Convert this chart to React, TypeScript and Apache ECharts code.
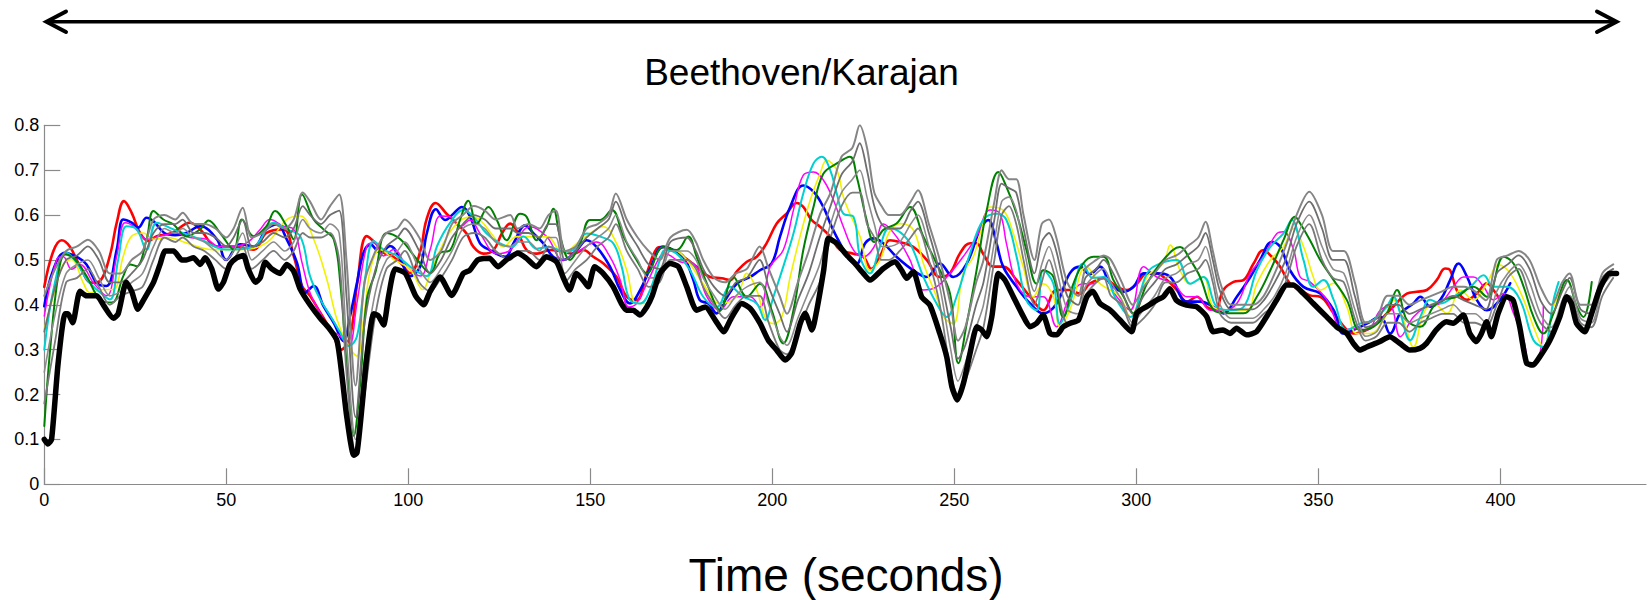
import React, { useEffect, useRef } from "react";
import * as echarts from "echarts";

const titleText = "Beethoven/Karajan";
const xAxisTitle = "Time (seconds)";
const xTicks = [0, 50, 100, 150, 200, 250, 300, 350, 400];

const blackLine: [number, number][] = [
  [0,0.10],[1,0.09],[2,0.10],[3.8,0.27],[5.7,0.38],[6.5,0.38],[7.8,0.36],[9.8,0.43],[11.6,0.42],[14.4,0.42],
  [16.2,0.40],[19,0.37],[20.3,0.38],[22.5,0.45],[24,0.43],[25.7,0.39],[27.2,0.41],[30,0.45],[31.8,0.49],[33.2,0.52],
  [35.5,0.52],[37.8,0.50],[39,0.50],[41,0.505],[42.8,0.49],[44.2,0.505],[46,0.48],[47.8,0.435],[49.2,0.45],[51,0.49],
  [52.9,0.505],[54.7,0.51],[56,0.48],[58,0.45],[59.3,0.46],[60.7,0.495],[62.5,0.48],[64.8,0.47],[66.6,0.49],[68.5,0.475],
  [70.3,0.435],[73,0.40],[75.8,0.37],[78,0.35],[80.4,0.32],[81.8,0.24],[83.1,0.15],[85,0.065],[85.9,0.07],[87.3,0.175],
  [88.6,0.285],[90.5,0.38],[91.8,0.375],[93.2,0.355],[94.6,0.42],[96.4,0.48],[99.2,0.47],[102,0.42],[104.2,0.40],[106,0.43],
  [108.7,0.462],[111.9,0.421],[115.1,0.47],[116.9,0.477],[119.1,0.50],[122.3,0.504],[124.6,0.485],[126.9,0.50],[130.1,0.515],[132.4,0.504],
  [135.2,0.485],[137.9,0.507],[140.7,0.496],[142.5,0.462],[144.3,0.433],[146.2,0.47],[148,0.455],[149.4,0.44],[151.2,0.485],[153.5,0.47],
  [156.3,0.44],[158.5,0.403],[159.9,0.388],[161.8,0.388],[163.6,0.377],[165.5,0.395],[167,0.42],[169.1,0.47],[171.9,0.492],[174.2,0.485],
  [176.5,0.44],[179.2,0.388],[181.6,0.395],[184.3,0.366],[186.6,0.34],[188.9,0.373],[191.6,0.403],[193.9,0.392],[196.6,0.359],[198.9,0.321],
  [201.2,0.299],[203.5,0.277],[205.3,0.292],[207.7,0.359],[209,0.381],[210.9,0.344],[212.2,0.388],[214.1,0.477],[215.4,0.548],[217.7,0.537],
  [220.4,0.511],[222.7,0.492],[225,0.47],[226.8,0.455],[230.5,0.481],[233.7,0.496],[235.5,0.477],[236.9,0.459],[238.7,0.474],[241,0.418],
  [243.3,0.399],[246,0.336],[247.9,0.284],[249.3,0.218],[250.8,0.188],[252.5,0.225],[254.3,0.292],[256.2,0.351],[257.5,0.344],[258.9,0.329],
  [260.3,0.374],[262.1,0.47],[263.9,0.455],[266.2,0.418],[268.5,0.381],[270.8,0.351],[272.6,0.359],[274.4,0.377],[276.3,0.336],[278.1,0.333],
  [279.9,0.351],[281.8,0.359],[284.1,0.366],[286.4,0.418],[288,0.43],[290,0.403],[292.8,0.388],[295.5,0.366],[298.7,0.34],[300.1,0.381],
  [302.8,0.396],[305.5,0.41],[307.4,0.418],[309.2,0.436],[311,0.41],[313.8,0.399],[316.5,0.396],[319.3,0.374],[321.1,0.34],[323.8,0.344],
  [325.7,0.336],[327.5,0.348],[330.3,0.333],[333,0.34],[335.8,0.374],[338.5,0.41],[341.3,0.444],[343.1,0.444],[345.9,0.425],[348.6,0.403],
  [352.3,0.373],[355,0.351],[357.8,0.336],[359.6,0.314],[361.4,0.299],[363.3,0.306],[366.9,0.318],[369.6,0.329],[372.4,0.314],[375.1,0.299],
  [377.9,0.303],[379.7,0.314],[382.4,0.344],[385.2,0.362],[387,0.359],[389.8,0.377],[391.6,0.336],[393.4,0.318],[394.8,0.336],[396.2,0.362],
  [397.5,0.329],[399.4,0.381],[401.7,0.418],[403.5,0.41],[405.3,0.351],[407.2,0.27],[409,0.266],[410.8,0.284],[413.6,0.321],[416.3,0.373],
  [418.2,0.418],[419.5,0.403],[420.9,0.359],[423.2,0.34],[424.5,0.366],[426.8,0.425],[428.2,0.451],[430,0.47],[431.9,0.47]
];

const redLine: [number, number][] = [
  [0,0.44],[2.5,0.52],[4.8,0.544],[7,0.53],[9.8,0.486],[13,0.449],[15.3,0.453],[18,0.509],[19.9,0.583],[21.9,0.631],
  [24,0.605],[26.3,0.56],[28.6,0.542],[30.9,0.553],[35,0.56],[40,0.583],[42.8,0.568],[47.4,0.53],[52,0.53],[57.5,0.523],
  [61,0.56],[65.7,0.568],[68.5,0.509],[70.8,0.442],[73,0.42],[76,0.38],[79,0.34],[81.5,0.30],[84,0.33],[86,0.45],
  [88.6,0.553],[91.4,0.534],[93.2,0.516],[95.5,0.509],[97.8,0.494],[100.5,0.471],[103.3,0.52],[105,0.59],[107.5,0.627],[110.5,0.603],
  [113.3,0.581],[116,0.559],[117.9,0.529],[120.6,0.514],[123.4,0.522],[125.7,0.559],[128,0.581],[130.2,0.559],[132.5,0.522],[135.3,0.514],
  [139,0.522],[142.6,0.518],[145.3,0.514],[148.1,0.522],[150.8,0.507],[153.6,0.492],[157.2,0.462],[160,0.418],[162.7,0.41],[165.5,0.47],
  [168.2,0.525],[170,0.529],[171.9,0.525],[175.6,0.507],[179.2,0.485],[182.9,0.462],[186.1,0.459],[188.4,0.455],[190.2,0.474],[193,0.496],
  [195.7,0.507],[198.4,0.537],[201.2,0.581],[203.9,0.603],[206.7,0.627],[208.5,0.618],[210.8,0.589],[213.1,0.574],[215.9,0.552],[218.6,0.522],
  [222.3,0.514],[225,0.507],[227.2,0.48],[229.5,0.507],[232.3,0.544],[235,0.54],[238.7,0.529],[242.4,0.50],[246,0.462],[248.8,0.47],
  [251.5,0.514],[254.3,0.537],[256.1,0.537],[257.9,0.514],[260.7,0.485],[263.4,0.485],[267.1,0.455],[270.8,0.418],[274.4,0.388],[278.1,0.433],
  [281.7,0.433],[284.5,0.425],[287.2,0.447],[291,0.459],[294.6,0.44],[297.4,0.433],[300.1,0.447],[302.9,0.47],[305.6,0.47],[308.4,0.455],
  [311.1,0.433],[313.9,0.407],[316.6,0.418],[319.4,0.395],[321.6,0.388],[323.9,0.433],[326.7,0.451],[329.4,0.455],[332.2,0.492],[334.9,0.522],
  [337.2,0.507],[339.5,0.485],[342.2,0.447],[345,0.433],[347.7,0.421],[350.5,0.418],[354.2,0.381],[357.8,0.344],[359.6,0.336],[363.3,0.344],
  [367,0.366],[370.6,0.396],[374.3,0.425],[377,0.429],[379.8,0.433],[382.5,0.455],[384.8,0.481],[386.2,0.477],[388,0.433],[390.8,0.411],
  [393.5,0.425],[396.3,0.448],[398.1,0.433],[399.9,0.411]
];

const blueLine: [number, number][] = [
  [0,0.397],[2.5,0.479],[5.7,0.516],[9.3,0.505],[11.6,0.49],[14.4,0.449],[17.1,0.442],[19.9,0.523],[21.7,0.59],[24,0.583],
  [25.8,0.572],[28.1,0.594],[30,0.586],[33,0.56],[36,0.555],[39,0.56],[42.8,0.575],[47.4,0.546],[50,0.50],[53.8,0.535],
  [57.5,0.53],[61,0.568],[63.9,0.579],[66.6,0.546],[69.4,0.494],[71.7,0.427],[74,0.442],[76.7,0.397],[79.5,0.36],[82.2,0.319],
  [84,0.375],[85.9,0.449],[87.7,0.516],[89.6,0.534],[92.3,0.516],[95,0.531],[97.8,0.501],[100.5,0.464],[103.3,0.486],[105.1,0.56],
  [107.6,0.613],[110.1,0.589],[112.4,0.603],[114.7,0.618],[117,0.596],[119.7,0.537],[122.4,0.522],[126.6,0.507],[128.9,0.537],[132.1,0.577],
  [134.4,0.559],[137.1,0.537],[139.8,0.507],[142.6,0.50],[146.3,0.522],[149,0.544],[151.7,0.529],[155.4,0.485],[158.2,0.433],[160.9,0.403],
  [163.7,0.433],[166.4,0.48],[170,0.529],[172.8,0.522],[175.6,0.507],[178.3,0.455],[180.1,0.41],[182.4,0.403],[184.7,0.381],[187,0.41],
  [190.2,0.447],[193.9,0.462],[196.6,0.477],[199.8,0.492],[202.1,0.552],[204.9,0.618],[208.5,0.666],[211.3,0.652],[214,0.618],[216.3,0.574],
  [218.6,0.537],[221.3,0.50],[223.2,0.492],[225.5,0.537],[227.8,0.548],[230.5,0.537],[234.1,0.507],[238.7,0.477],[242.4,0.462],[246,0.492],
  [249.7,0.462],[253.4,0.492],[257,0.567],[259.3,0.589],[261.6,0.537],[263.4,0.485],[267.1,0.44],[270.8,0.403],[274.4,0.381],[278.1,0.403],
  [281.7,0.47],[284.5,0.485],[287.2,0.468],[290,0.485],[292.8,0.447],[296.5,0.429],[299.2,0.44],[302,0.47],[305.6,0.47],[309.3,0.462],
  [313.9,0.407],[317.5,0.407],[321.2,0.395],[323.9,0.381],[327.6,0.418],[331.3,0.462],[334,0.50],[337.2,0.54],[339.5,0.529],[342.2,0.477],
  [345.9,0.44],[350.5,0.425],[354.2,0.388],[356.9,0.336],[359.6,0.344],[363.3,0.358],[367,0.373],[369.7,0.336],[372.5,0.381],[376.1,0.403],
  [378,0.418],[380.7,0.396],[383.5,0.411],[386.2,0.455],[388.5,0.492],[390.8,0.463],[393.5,0.411],[396.3,0.388],[399.9,0.411],[402.7,0.448]
];

const magentaLine: [number, number][] = [
  [0,0.375],[3.4,0.501],[5.2,0.507],[7.5,0.479],[9.8,0.49],[13.5,0.449],[17.1,0.42],[19.9,0.509],[22.2,0.583],[24.5,0.575],
  [28.1,0.546],[31.8,0.553],[36,0.56],[40,0.55],[44.6,0.546],[48,0.53],[52,0.53],[56,0.54],[59.3,0.568],[62,0.59],
  [65.7,0.575],[68.5,0.568],[70.8,0.494],[73,0.427],[75.8,0.382],[78.6,0.345],[81.3,0.33],[83.6,0.308],[85.9,0.405],[88.6,0.531],
  [90.5,0.538],[93.2,0.509],[96,0.523],[99.6,0.486],[103.3,0.464],[106,0.523],[108.8,0.598],[111.5,0.596],[114.2,0.574],[117,0.589],
  [119.7,0.559],[124.3,0.514],[128,0.522],[133.4,0.574],[138,0.552],[142.6,0.50],[147.2,0.522],[151.7,0.54],[155.4,0.507],[158.2,0.455],
  [160.5,0.395],[162.7,0.403],[165.5,0.447],[169.1,0.507],[170.5,0.514],[174.6,0.496],[178.3,0.492],[182,0.418],[185.6,0.388],[189.3,0.418],
  [193.9,0.418],[196.6,0.395],[199.4,0.485],[203,0.522],[205.8,0.611],[208.5,0.689],[211.3,0.696],[214,0.678],[216.8,0.633],[219.5,0.574],
  [222.3,0.522],[225,0.507],[228,0.53],[230.5,0.58],[234.1,0.552],[237.8,0.50],[241.5,0.433],[245.1,0.44],[248.8,0.47],[252.4,0.507],
  [256.1,0.552],[259.8,0.611],[262.5,0.603],[264.3,0.537],[267.1,0.447],[270.8,0.418],[274.4,0.418],[278.1,0.351],[281.7,0.418],[285.4,0.447],
  [288,0.447],[291,0.462],[294.6,0.418],[298.3,0.388],[302,0.485],[305.6,0.462],[310.2,0.447],[313.9,0.418],[316.6,0.418],[320.3,0.388],
  [323.9,0.388],[327.6,0.403],[331.3,0.47],[334.9,0.507],[338.6,0.559],[340.4,0.563],[343.2,0.522],[345,0.462],[347.7,0.451],[352.3,0.411],
  [356.9,0.344],[359.6,0.347],[363.3,0.344],[367,0.388],[369.7,0.396],[372.5,0.329],[376.1,0.373],[379.8,0.396],[383.5,0.403],[387.1,0.44],
  [389.9,0.462],[392.6,0.462],[395.4,0.44],[398.1,0.411],[400.9,0.425],[403.6,0.381],[406.4,0.321],[408.2,0.262],[410.9,0.291],[411.8,0.396]
];

const yellowLine: [number, number][] = [
  [0,0.345],[2.5,0.42],[5.2,0.49],[7.5,0.501],[10.7,0.449],[12.6,0.427],[16.2,0.434],[19,0.434],[21.7,0.509],[24,0.553],
  [27.2,0.56],[30,0.546],[34,0.55],[39,0.538],[46.5,0.523],[53.8,0.523],[61,0.538],[66.6,0.59],[70.3,0.598],[74,0.546],
  [77.6,0.457],[80.4,0.367],[83.1,0.316],[85.9,0.286],[87.7,0.367],[89.6,0.479],[92.3,0.523],[96,0.501],[100.5,0.479],[104,0.434],
  [106,0.47],[109.6,0.537],[113.3,0.581],[117,0.596],[119.7,0.589],[123.4,0.552],[126.1,0.529],[129.8,0.552],[134.4,0.552],[138,0.552],
  [142.6,0.514],[146.3,0.537],[149.9,0.559],[153.6,0.574],[157.2,0.537],[160,0.477],[162.7,0.403],[165.5,0.403],[169.1,0.5],[172.8,0.522],
  [176.5,0.50],[181,0.447],[185.6,0.403],[190.2,0.418],[193,0.47],[195.7,0.433],[198,0.373],[200.3,0.358],[202.6,0.373],[204.9,0.462],
  [207.6,0.552],[210.4,0.633],[213.1,0.692],[214.9,0.722],[217.7,0.70],[219.5,0.641],[221.3,0.603],[224.1,0.552],[226.8,0.477],[229.6,0.50],
  [232,0.56],[235,0.581],[238.7,0.567],[241.5,0.492],[245.1,0.418],[247,0.373],[249.7,0.358],[252.4,0.47],[255.2,0.507],[257.9,0.581],
  [259.8,0.618],[263.4,0.611],[266.2,0.559],[268.9,0.485],[271.7,0.418],[274.4,0.447],[277.2,0.418],[279,0.351],[281.7,0.388],[286.3,0.485],
  [290,0.447],[295.5,0.418],[298.3,0.373],[302.9,0.462],[307.4,0.492],[309.3,0.533],[312,0.477],[314.8,0.447],[318.4,0.462],[321.2,0.395],
  [325.8,0.388],[330.3,0.388],[333.1,0.447],[336.8,0.50],[340.4,0.529],[343.2,0.57],[345.9,0.53],[348.6,0.462],[350.5,0.433],[354.2,0.448],
  [357.8,0.396],[360.6,0.336],[364.2,0.336],[367.9,0.366],[370.6,0.411],[373.4,0.366],[376.1,0.306],[378.9,0.381],[381.6,0.403],[385.3,0.381],
  [389,0.433],[392.6,0.411],[396.3,0.448],[399.5,0.489],[402.7,0.47],[406.4,0.411],[409.1,0.351],[411.8,0.306],[414.6,0.396],[417.3,0.44]
];

const cyanLine: [number, number][] = [
  [0,0.30],[2.9,0.449],[6.1,0.516],[8.9,0.494],[11.6,0.457],[14.4,0.434],[18,0.412],[20.3,0.501],[22.6,0.575],[25.4,0.568],
  [28.1,0.523],[30.9,0.583],[35.5,0.568],[42.8,0.546],[50,0.523],[57.5,0.53],[63,0.583],[66.6,0.568],[70.3,0.553],[73,0.464],
  [75.8,0.412],[78.6,0.375],[81.3,0.338],[83.6,0.308],[85.9,0.33],[88.2,0.464],[90.5,0.542],[93.2,0.523],[96.9,0.509],[101.5,0.479],
  [105.1,0.464],[107.9,0.531],[111.5,0.583],[115.1,0.611],[117.9,0.596],[121.5,0.559],[125.2,0.537],[128.4,0.529],[131.6,0.552],[135.3,0.525],
  [139,0.529],[142.6,0.518],[145.3,0.522],[149,0.559],[152.7,0.552],[156.3,0.537],[158.6,0.485],[160.9,0.41],[163.7,0.403],[166.4,0.433],
  [169.1,0.50],[170.5,0.522],[173.7,0.514],[177.4,0.477],[181,0.418],[184.7,0.395],[188.4,0.44],[192,0.418],[195.7,0.403],[198,0.366],
  [200.3,0.418],[203,0.485],[205.8,0.559],[208.5,0.648],[211.3,0.715],[213.6,0.73],[215.9,0.70],[217.7,0.648],[219.5,0.603],[222.3,0.596],
  [224.1,0.507],[226.8,0.47],[229.6,0.53],[232,0.57],[234.1,0.567],[237.8,0.537],[241.5,0.462],[245.1,0.403],[247.9,0.373],[250.6,0.418],
  [254.3,0.514],[257.9,0.589],[261.6,0.603],[264.3,0.589],[267.1,0.507],[269.8,0.41],[272.6,0.388],[274.4,0.477],[277.2,0.447],[279,0.358],
  [281.7,0.403],[285.4,0.492],[288,0.46],[291,0.462],[294.6,0.41],[298.3,0.373],[302.9,0.47],[306.5,0.492],[311.1,0.50],[314.8,0.447],
  [318.4,0.462],[322.1,0.395],[325.8,0.388],[329.4,0.395],[333.1,0.477],[336.8,0.529],[340.4,0.559],[342.7,0.589],[345.9,0.50],[348.6,0.44],
  [351.4,0.455],[354.2,0.411],[357.8,0.344],[361.5,0.358],[365.1,0.366],[368.8,0.396],[370.6,0.418],[372.5,0.381],[375.2,0.321],[378,0.373],
  [380.7,0.411],[383.5,0.403],[387.1,0.418],[391.7,0.44],[395.4,0.466],[398.1,0.44],[401.8,0.44],[405.4,0.411],[409.1,0.321],[411.8,0.306],
  [414.6,0.411],[416,0.451]
];

const greenLine: [number, number][] = [
  [0,0.13],[1.6,0.30],[3.8,0.464],[5.7,0.512],[8.4,0.501],[11.6,0.464],[15.3,0.412],[18.5,0.405],[21.7,0.464],[23.6,0.49],
  [25.4,0.486],[28.1,0.546],[30,0.609],[32.7,0.59],[35.5,0.579],[39,0.553],[42.8,0.568],[45.1,0.588],[48.3,0.56],[52,0.523],
  [54.3,0.59],[57.5,0.553],[61,0.575],[63.4,0.609],[66.6,0.575],[68.5,0.546],[70.8,0.646],[74,0.59],[76.7,0.568],[79.5,0.546],
  [81.3,0.449],[83.1,0.264],[85,0.108],[86.8,0.226],[88.6,0.412],[90.9,0.471],[94.1,0.56],[97.8,0.546],[102.4,0.501],[106,0.471],
  [108.8,0.516],[111.5,0.522],[114.2,0.589],[116.5,0.632],[118.8,0.581],[122,0.618],[124.3,0.589],[127,0.544],[130.7,0.603],[132.5,0.596],
  [135.3,0.544],[138,0.574],[139.8,0.614],[141.7,0.552],[144.4,0.50],[147.2,0.537],[149.9,0.589],[152.7,0.589],[155.9,0.611],[159.1,0.552],
  [162.7,0.50],[165.5,0.47],[170,0.529],[173.7,0.522],[176.9,0.552],[179.2,0.507],[182.4,0.44],[185.6,0.388],[189.3,0.462],[193,0.418],
  [196.6,0.447],[199.8,0.388],[203,0.314],[205.8,0.388],[208.5,0.522],[211.3,0.618],[214,0.692],[217.7,0.715],[221.3,0.73],[223.2,0.685],
  [225.9,0.589],[228,0.54],[230.5,0.567],[234.1,0.581],[237.8,0.618],[241.5,0.552],[245.1,0.492],[248.8,0.425],[251.1,0.27],[253.4,0.358],
  [256.1,0.477],[258.9,0.611],[262.1,0.696],[264.3,0.663],[267.1,0.603],[269.8,0.522],[272.6,0.447],[274.4,0.477],[277.2,0.462],[279.9,0.373],
  [282.7,0.447],[285.4,0.492],[288.2,0.507],[291,0.507],[293.7,0.455],[296.5,0.418],[299.2,0.381],[302.9,0.447],[307.4,0.50],[312,0.529],
  [314.8,0.50],[317.5,0.462],[321.2,0.388],[324.8,0.381],[329.4,0.381],[333.1,0.418],[336.8,0.477],[340.4,0.544],[343.6,0.596],[345,0.581],
  [347.7,0.544],[350.5,0.50],[354.2,0.455],[357.8,0.411],[361.5,0.344],[365.1,0.351],[368.8,0.381],[371.6,0.433],[374.3,0.366],[378,0.351],
  [381.6,0.396],[384.4,0.411],[388,0.418],[392.6,0.44],[396.3,0.418],[400.9,0.507],[403.6,0.492],[406.4,0.44],[409.1,0.373],[411.8,0.336],
  [414.6,0.381],[418.3,0.455],[421,0.396],[422.8,0.373],[425.1,0.451]
];

const grayTimes = [
  0,3,6,9,12,15,18,21,24,27,
  30,33,36,38,41,44,47,50,52,54.5,
  57,60,63,66,68.5,71,73,76,78.5,81,
  83,85.5,88,91,94,97,99,103,106,109,
  112,115,118,121,124,128,130,133,136,138.5,
  140.5,143,146,149,152,155,157,160,163,166,
  169,172,176.5,179,181,184,187,190,193,196.5,
  199,202,204,207,210,213,216,219,222,224,
  226,228,230,232,235,238,240,243,246,249,
  251,253,256,258,261,263,265,267,269,272,
  274,276,278,281,284,286,289,291,293,296,
  299,302,305,308,311,314,317,319,321,323,
  326,329,332,335,338,341,344,347.5,351,354,
  357,360,363,366,369,372,375,378,381,384,
  387,390,393,396,399,402,405,408,411,414,
  417,419,422,425,428,431
];

const grayLow = [
  .18,.32,.45,.46,.48,.44,.40,.42,.43,.44,
  .50,.55,.54,.55,.53,.52,.50,.48,.50,.53,
  .48,.50,.52,.50,.52,.56,.55,.55,.56,.50,
  .25,.07,.20,.38,.48,.50,.52,.45,.43,.46,
  .50,.55,.56,.55,.52,.50,.52,.52,.50,.53,
  .52,.45,.48,.50,.53,.55,.58,.52,.48,.44,
  .45,.50,.50,.48,.44,.40,.37,.40,.42,.42,
  .36,.30,.29,.34,.40,.45,.55,.62,.65,.65,
  .58,.55,.50,.50,.52,.55,.57,.50,.40,.25,
  .20,.23,.30,.35,.50,.60,.62,.58,.50,.40,
  .45,.50,.45,.36,.37,.42,.45,.46,.42,.40,
  .35,.37,.40,.45,.45,.47,.48,.50,.45,.38,
  .36,.36,.36,.38,.40,.45,.53,.58,.50,.46,
  .45,.37,.32,.33,.36,.36,.34,.36,.37,.38,
  .38,.36,.36,.35,.40,.46,.48,.42,.36,.34,
  .40,.42,.36,.35,.42,.46
];

const grayMidLow = [
  .25,.38,.47,.49,.50,.46,.42,.43,.45,.47,
  .53,.57,.56,.57,.55,.54,.52,.50,.52,.56,
  .50,.52,.54,.52,.54,.59,.57,.56,.58,.56,
  .32,.10,.28,.43,.50,.52,.54,.48,.45,.48,
  .52,.57,.58,.57,.54,.53,.54,.54,.52,.55,
  .55,.47,.50,.53,.55,.57,.60,.54,.50,.46,
  .46,.52,.52,.50,.46,.42,.39,.42,.44,.45,
  .40,.33,.31,.37,.43,.49,.58,.65,.68,.70,
  .64,.58,.53,.53,.54,.58,.60,.53,.44,.30,
  .23,.27,.35,.40,.54,.63,.64,.61,.53,.43,
  .49,.53,.48,.39,.38,.44,.47,.48,.45,.41,
  .36,.39,.42,.46,.47,.49,.50,.53,.47,.40,
  .37,.37,.37,.39,.42,.47,.55,.60,.53,.48,
  .47,.39,.33,.34,.38,.38,.36,.37,.38,.39,
  .40,.38,.38,.36,.43,.47,.49,.45,.38,.35,
  .41,.44,.37,.36,.44,.47
];

const grayMidHigh = [
  .34,.44,.50,.51,.53,.50,.45,.45,.47,.50,
  .56,.58,.58,.59,.56,.56,.55,.53,.55,.59,
  .53,.54,.56,.55,.57,.62,.60,.58,.60,.61,
  .42,.15,.36,.48,.53,.55,.57,.52,.47,.50,
  .55,.58,.60,.59,.57,.57,.56,.56,.55,.58,
  .58,.50,.52,.55,.57,.59,.63,.57,.53,.49,
  .48,.54,.55,.52,.48,.44,.42,.45,.46,.50,
  .44,.38,.34,.41,.47,.55,.62,.69,.72,.76,
  .70,.62,.58,.57,.57,.61,.63,.56,.47,.35,
  .28,.31,.40,.45,.59,.67,.66,.65,.57,.47,
  .54,.56,.52,.42,.40,.46,.48,.50,.48,.43,
  .38,.42,.45,.48,.49,.51,.53,.56,.50,.43,
  .39,.39,.39,.41,.45,.50,.58,.63,.57,.50,
  .50,.42,.35,.36,.40,.40,.38,.39,.40,.41,
  .42,.41,.40,.39,.47,.49,.51,.48,.41,.38,
  .43,.46,.39,.38,.46,.48
];

const grayHigh = [
  .42,.48,.52,.53,.545,.52,.47,.47,.50,.52,
  .59,.60,.59,.605,.58,.58,.57,.55,.57,.616,
  .55,.56,.58,.57,.59,.65,.63,.59,.62,.646,
  .50,.22,.45,.52,.56,.57,.59,.55,.50,.52,
  .58,.60,.62,.61,.59,.60,.57,.58,.57,.60,
  .61,.52,.53,.57,.58,.60,.648,.59,.55,.52,
  .50,.55,.567,.54,.50,.46,.45,.47,.48,.53,
  .48,.42,.38,.45,.52,.60,.65,.73,.75,.80,
  .75,.65,.62,.60,.60,.63,.655,.58,.50,.40,
  .32,.35,.45,.50,.63,.70,.68,.68,.60,.50,
  .58,.59,.55,.45,.42,.48,.50,.51,.50,.45,
  .40,.44,.47,.50,.51,.53,.55,.585,.52,.45,
  .40,.40,.40,.42,.47,.53,.60,.652,.60,.52,
  .52,.45,.36,.37,.42,.42,.40,.41,.42,.43,
  .44,.44,.43,.41,.50,.51,.52,.50,.44,.40,
  .45,.47,.40,.40,.47,.49
];

const zipGray = (vals: number[]) => {
  const n = Math.min(grayTimes.length, vals.length);
  const out: [number, number][] = [];
  for (let i = 0; i < n; i++) out.push([grayTimes[i], vals[i]]);
  return out;
};

const FONT = "'Liberation Sans', Arial, sans-serif";

export default function App() {
  const ref = useRef<HTMLDivElement>(null);
  useEffect(() => {
    if (!ref.current) return;
    const chart = echarts.init(ref.current, undefined, { renderer: "svg" });
    const line = (name: string, data: [number, number][], color: string, width: number, smooth: number, z: number) => ({
      name,
      type: "line",
      data,
      showSymbol: false,
      symbol: "none",
      smooth,
      z,
      silent: true,
      lineStyle: { color, width, cap: "round", join: "round" },
    });
    chart.setOption({
      animation: false,
      backgroundColor: "#ffffff",
      grid: { left: 44.3, top: 125.3, right: 6, bottom: 115.7, containLabel: false },
      xAxis: {
        type: "value",
        min: 0,
        max: 440,
        interval: 50,
        axisLine: { show: true, onZero: false, lineStyle: { color: "#8a8a8a", width: 1.2 } },
        axisTick: { show: true, inside: true, length: 16, customValues: xTicks, lineStyle: { color: "#8a8a8a", width: 1.2 } },
        axisLabel: { show: true, customValues: xTicks, margin: 7, color: "#000", fontSize: 18, fontFamily: FONT },
        splitLine: { show: false },
      },
      yAxis: {
        type: "value",
        min: 0,
        max: 0.8,
        interval: 0.1,
        axisLine: { show: true, lineStyle: { color: "#8a8a8a", width: 1.2 } },
        axisTick: { show: true, inside: true, length: 16, lineStyle: { color: "#8a8a8a", width: 1.2 } },
        axisLabel: {
          margin: 5,
          color: "#000",
          fontSize: 18,
          fontFamily: FONT,
          formatter: (v: number) => (Math.abs(v) < 1e-9 ? "0" : v.toFixed(1)),
        },
        splitLine: { show: false },
      },
      series: [
        line("red", redLine, "#ff0000", 2.6, 0.4, 2),
        line("blue", blueLine, "#0000ff", 2.6, 0.4, 3),
        line("magenta", magentaLine, "#ff00ff", 1.5, 0.4, 4),
        line("yellow", yellowLine, "#f2f200", 1.6, 0.4, 5),
        line("cyan", cyanLine, "#00d0d0", 2, 0.4, 6),
        line("green", greenLine, "#008000", 2, 0.4, 7),
        line("grayLow", zipGray(grayLow), "#7a7a7a", 1.8, 0.3, 8),
        line("grayMidLow", zipGray(grayMidLow), "#8c8c8c", 1.6, 0.3, 8),
        line("grayMidHigh", zipGray(grayMidHigh), "#6e6e6e", 1.8, 0.3, 8),
        line("grayHigh", zipGray(grayHigh), "#858585", 2, 0.3, 8),
        line("black", blackLine, "#000000", 5.5, 0.2, 10),
      ],
      graphic: [
        { type: "line", shape: { x1: 48, y1: 21.7, x2: 1614, y2: 21.7 }, style: { stroke: "#000", lineWidth: 3.5 } },
        {
          type: "polyline",
          shape: { points: [[66, 11.5], [46.5, 21.7], [66, 32]] },
          style: { stroke: "#000", lineWidth: 4, fill: null, lineJoin: "miter", lineCap: "round" },
        },
        {
          type: "polyline",
          shape: { points: [[1597, 11.5], [1616.5, 21.7], [1597, 32]] },
          style: { stroke: "#000", lineWidth: 4, fill: null, lineJoin: "miter", lineCap: "round" },
        },
        {
          type: "text",
          x: 801.5,
          y: 72,
          style: { text: titleText, fill: "#000", fontSize: 37, fontFamily: FONT, align: "center", verticalAlign: "middle" },
        },
        {
          type: "text",
          x: 846,
          y: 575,
          style: { text: xAxisTitle, fill: "#000", fontSize: 46, fontFamily: FONT, align: "center", verticalAlign: "middle" },
        },
      ],
    });
    return () => chart.dispose();
  }, []);
  return <div ref={ref} style={{ position: "absolute", left: 0, top: 0, width: 1652, height: 600 }} />;
}
